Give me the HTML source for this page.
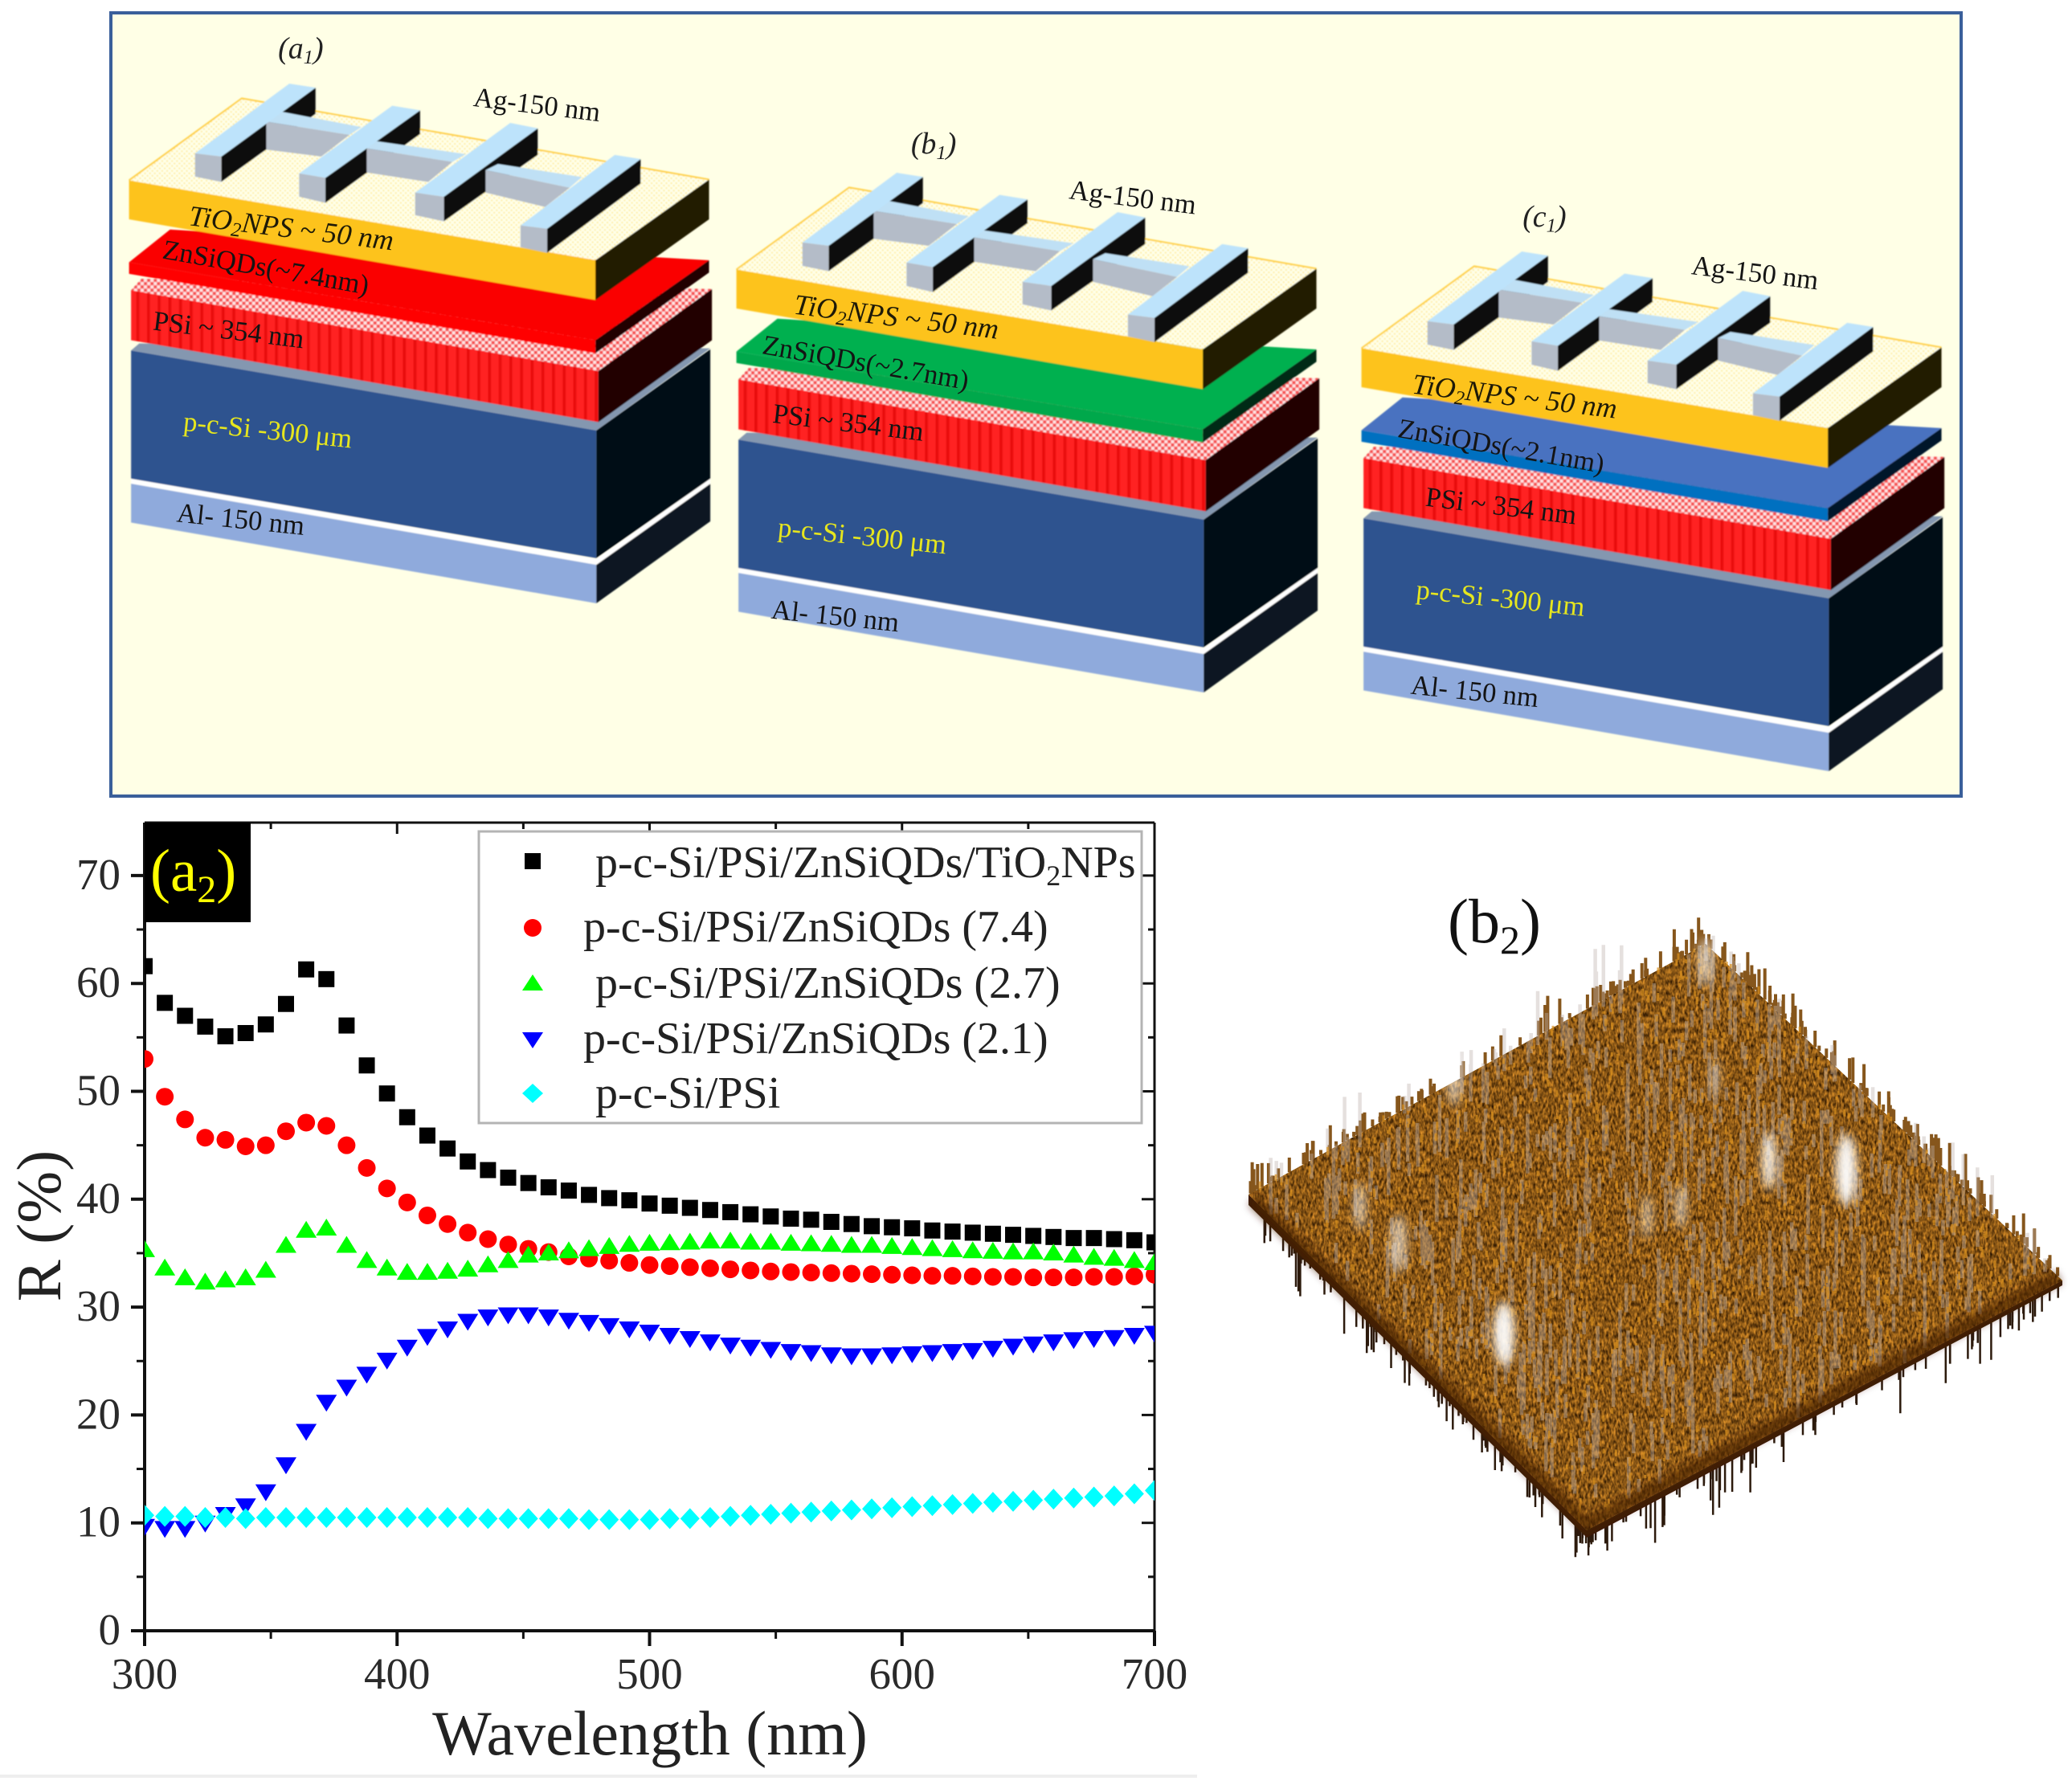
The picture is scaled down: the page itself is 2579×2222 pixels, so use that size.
<!DOCTYPE html>
<html lang="en">
<head>
<meta charset="utf-8">
<title>Solar cell structures, reflectance spectra and AFM surface</title>
<style>
html,body{margin:0;padding:0;background:#fff;width:2579px;height:2222px;overflow:hidden}
svg{display:block}
text{font-family:"Liberation Serif",serif}
.lab{font-size:21px;fill:#141414}
.tio{font-size:21.8px;fill:#1e1a08;font-style:italic}
.si{font-size:21px;fill:#e6e61e}
.ital{font-style:italic}
.tag{font-size:23px;fill:#222;font-style:italic}
.tick{font-size:55px;fill:#2a2a2a}
.leg{font-size:56px;fill:#222}
</style>
</head>
<body>
<svg id="figure" width="2579" height="2222" viewBox="0 0 2579 2222" xmlns="http://www.w3.org/2000/svg">
<defs>
  <pattern id="dots" width="12" height="12" patternUnits="userSpaceOnUse">
    <rect width="12" height="12" fill="#ffffe8"/>
    <circle cx="3" cy="3" r="2" fill="#ffe88c"/>
    <circle cx="9" cy="9" r="2" fill="#ffe88c"/>
  </pattern>
  <pattern id="pink" width="16" height="16" patternUnits="userSpaceOnUse">
    <rect width="16" height="16" fill="#ffe4e4"/>
    <rect width="8" height="8" fill="#f65050"/>
    <rect x="8" y="8" width="8" height="8" fill="#f65050"/>
  </pattern>
  <pattern id="stripes" width="26" height="26" patternUnits="userSpaceOnUse">
    <rect width="26" height="26" fill="#ff2020"/>
    <rect width="7" height="26" fill="#e80a0a"/>
  </pattern>
  <filter id="soft" x="-2%" y="-2%" width="104%" height="104%"><feGaussianBlur stdDeviation="0.9"/></filter>
  <filter id="blob" x="-60%" y="-30%" width="220%" height="160%"><feGaussianBlur stdDeviation="6"/></filter>
  <filter id="edge-blur" x="-5%" y="-5%" width="110%" height="110%"><feGaussianBlur stdDeviation="5"/></filter>
  <filter id="grain" x="0" y="0" width="100%" height="100%" color-interpolation-filters="sRGB">
    <feTurbulence type="fractalNoise" baseFrequency="0.35 0.15" numOctaves="2" seed="7" result="n"/>
    <feColorMatrix in="n" type="matrix" values="1.3 0 0 0 -0.1  0.9 0 0 0 -0.1  0.3 0 0 0 -0.06  0 0 0 0 1" result="c"/>
    <feComposite in="c" in2="SourceAlpha" operator="in"/>
  </filter>

  <g id="stack-geom" transform="translate(130,0) scale(0.5102)">
    <polygon points="65,1180 1200,1378 1200,1472 65,1275" fill="#8faadc"/>
    <polygon points="1200,1378 1478,1180 1478,1272 1200,1472" fill="#0f1520"/>
    <polygon points="65,1168 1200,1364 1478,1168 1478,1180 1200,1378 65,1180" fill="#fff"/>
    <polygon points="65,855 1200,1050 1200,1362 65,1168" fill="#2f528f"/>
    <polygon points="1200,1050 1478,852 1478,1168 1200,1362" fill="#040a14"/>
    <polygon points="65,855 85,838 1478,850 1200,1050" fill="#8497b0"/>
    <polygon points="65,708 1205,905 1205,1030 65,830" fill="url(#stripes)"/>
    <polygon points="1205,905 1482,705 1482,830 1205,1030" fill="#200000"/>
    <polygon points="65,708 90,680 1482,705 1205,905" fill="url(#pink)"/>
    <polygon points="60,640 160,560 1475,635 1198,830" style="fill:var(--zn-top)"/>
    <polygon points="60,640 1198,830 1198,862 60,668" style="fill:var(--zn-front)"/>
    <polygon points="1198,830 1475,635 1475,665 1198,862" style="fill:var(--zn-side)"/>
    <polygon points="60,440 1198,635 1475,438 335,240" fill="url(#dots)"/>
    <polyline points="60,440 335,240 1475,438" fill="none" stroke="#ffcf40" stroke-width="4"/>
    <polygon points="60,440 1198,635 1198,732 60,535" fill="#fdc31d"/>
    <polygon points="1198,635 1475,438 1475,535 1198,732" fill="#221a02"/>
    <!-- finger sides -->
    <polygon points="285,382 515,214 515,278 285,444" fill="#111"/>
    <polygon points="539,434 770,269 770,327 539,495" fill="#111"/>
    <polygon points="828,480 1057,313 1057,378 828,540" fill="#111"/>
    <polygon points="1080,558 1308,388 1308,448 1080,617" fill="#111"/>
    <!-- bus bar segments -->
    <polygon points="395,297 598,329 529,382 395,365" fill="#b4bcc8"/>
    <polygon points="434,273 627,310 598,329 395,297" fill="#bfe0f5"/>
    <polygon points="640,362 849,395 790,444 640,421" fill="#b4bcc8"/>
    <polygon points="653,343 882,376 849,395 640,362" fill="#bfe0f5"/>
    <polygon points="930,415 1135,458 1075,505 930,470" fill="#b4bcc8"/>
    <polygon points="960,400 1165,432 1135,458 930,415" fill="#bfe0f5"/>
    <!-- finger tops and fronts -->
    <polygon points="221,374 285,382 515,214 451,204" fill="#bde3fb"/>
    <polygon points="221,374 285,382 285,444 221,431" fill="#b4bcc8"/>
    <polygon points="475,423 539,434 770,269 702,258" fill="#bde3fb"/>
    <polygon points="475,423 539,434 539,495 475,480" fill="#b4bcc8"/>
    <polygon points="758,470 828,480 1057,313 990,300" fill="#bde3fb"/>
    <polygon points="758,470 828,480 828,540 758,525" fill="#b4bcc8"/>
    <polygon points="1015,550 1080,558 1308,388 1245,378" fill="#bde3fb"/>
    <polygon points="1015,550 1080,558 1080,617 1015,603" fill="#b4bcc8"/>
  </g>
</defs>

<rect width="2579" height="2222" fill="#fff"/>
<rect id="structures-panel" x="138" y="16" width="2303" height="975" fill="#ffffe6" stroke="#3a5f9a" stroke-width="4"/>

<g filter="url(#soft)">
  <use href="#stack-geom" style="--zn-top:#fa0000;--zn-front:#ff0000;--zn-side:#200000"/>
  <use href="#stack-geom" transform="translate(756,111)" style="--zn-top:#00b050;--zn-front:#00a84c;--zn-side:#002a14"/>
  <use href="#stack-geom" transform="translate(1534,209)" style="--zn-top:#4a72c0;--zn-front:#0070c0;--zn-side:#02182c"/>
</g>

<!-- stack labels, in 0.607-scale coordinates -->
<g id="stack-labels" transform="scale(1.648)">
  <text class="tag" x="210" y="44">(a<tspan font-size="15" dy="4">1</tspan><tspan dy="-4">)</tspan></text>
  <text class="lab" x="357" y="80" transform="rotate(7 357 80)">Ag-150 nm</text>
  <text class="tio" x="142" y="170" transform="rotate(7 142 170)">TiO<tspan font-size="15" dy="4">2</tspan><tspan dy="-4">NPS ~ 50 nm</tspan></text>
  <text class="lab" x="122" y="195" transform="rotate(10 122 195)">ZnSiQDs(~7.4nm)</text>
  <text class="lab" x="115" y="249" transform="rotate(7 115 249)">PSi ~ 354 nm</text>
  <text class="si" x="138" y="325" transform="rotate(6 138 325)">p-c-Si -300 μm</text>
  <text class="lab" x="133" y="394" transform="rotate(6 133 394)">Al- 150 nm</text>

  <text class="tag" x="688" y="116">(b<tspan font-size="15" dy="4">1</tspan><tspan dy="-4">)</tspan></text>
  <text class="lab" x="807" y="150" transform="rotate(7 807 150)">Ag-150 nm</text>
  <text class="tio" x="599" y="237" transform="rotate(7 599 237)">TiO<tspan font-size="15" dy="4">2</tspan><tspan dy="-4">NPS ~ 50 nm</tspan></text>
  <text class="lab" x="575" y="267" transform="rotate(10 575 267)">ZnSiQDs(~2.7nm)</text>
  <text class="lab" x="583" y="319" transform="rotate(7 583 319)">PSi ~ 354 nm</text>
  <text class="si" x="587" y="405" transform="rotate(6 587 405)">p-c-Si -300 μm</text>
  <text class="lab" x="582" y="467" transform="rotate(6 582 467)">Al- 150 nm</text>

  <text class="tag" x="1150" y="171">(c<tspan font-size="15" dy="4">1</tspan><tspan dy="-4">)</tspan></text>
  <text class="lab" x="1277" y="207" transform="rotate(7 1277 207)">Ag-150 nm</text>
  <text class="tio" x="1066" y="297" transform="rotate(7 1066 297)">TiO<tspan font-size="15" dy="4">2</tspan><tspan dy="-4">NPS ~ 50 nm</tspan></text>
  <text class="lab" x="1055" y="330" transform="rotate(10 1055 330)">ZnSiQDs(~2.1nm)</text>
  <text class="lab" x="1076" y="382" transform="rotate(7 1076 382)">PSi ~ 354 nm</text>
  <text class="si" x="1069" y="452" transform="rotate(6 1069 452)">p-c-Si -300 μm</text>
  <text class="lab" x="1065" y="524" transform="rotate(6 1065 524)">Al- 150 nm</text>
</g>

<!-- Reflectance chart -->
<g id="chart">
  <clipPath id="plot-clip"><rect x="180" y="1024" width="1257" height="1006"/></clipPath>
  <g id="axes"></g>
  <g id="marks" clip-path="url(#plot-clip)"></g>
  <g id="panel-tag">
    <rect x="180" y="1024" width="132" height="124" fill="#000"/>
    <text x="187" y="1109" font-size="75" fill="#ffff00">(a<tspan font-size="48" dy="14">2</tspan><tspan dy="-14">)</tspan></text>
  </g>
  <g id="legend">
    <rect x="596" y="1035" width="825" height="363" fill="#fff" stroke="#b4b4b4" stroke-width="3"/>
    <text class="leg" x="741" y="1092">p-c-Si/PSi/ZnSiQDs/TiO<tspan font-size="36" dy="10">2</tspan><tspan dy="-10">NPs</tspan></text>
    <text class="leg" x="726" y="1172">p-c-Si/PSi/ZnSiQDs (7.4)</text>
    <text class="leg" x="741" y="1242">p-c-Si/PSi/ZnSiQDs (2.7)</text>
    <text class="leg" x="726" y="1311">p-c-Si/PSi/ZnSiQDs (2.1)</text>
    <text class="leg" x="741" y="1379">p-c-Si/PSi</text>
    <rect x="653" y="1062" width="20" height="20" fill="#000"/>
    <circle cx="663" cy="1155" r="11" fill="#ff0000"/>
    <polygon points="663,1213 676,1233 650,1233" fill="#00ff00"/>
    <polygon points="650,1285 676,1285 663,1305" fill="#0000ff"/>
    <polygon points="663,1349 676,1361 663,1373 650,1361" fill="#00ffff"/>
  </g>
  <text id="x-title" x="809" y="2184" font-size="78" text-anchor="middle" fill="#222">Wavelength (nm)</text>
  <text id="y-title" transform="translate(75,1526) rotate(-90)" font-size="78" text-anchor="middle" fill="#222">R (%)</text>
</g>
<rect x="0" y="2209" width="1490" height="4" fill="#eeeeee"/>

<!-- AFM surface -->
<g id="afm">
  <text x="1802" y="1173" font-size="78" fill="#111">(b<tspan font-size="50" dy="14">2</tspan><tspan dy="-14">)</tspan></text>
  <path id="afm-drops" fill="none" stroke="#2c1a0c" stroke-width="2.5"/>
  <path id="afm-tops" fill="none" stroke="#86561c" stroke-width="4"/>
  <polygon points="1554,1487 1975,1905 2567,1594 2567,1600 1975,1914 1554,1500" fill="#3c1c06"/>
  <polygon points="1554,1487 2123,1175 2567,1594 1975,1905" fill="#7e4c10"/>
  <polygon points="1554,1487 2123,1175 2567,1594 1975,1905" fill="#000" filter="url(#grain)" opacity="0.8"/>
  <path id="afm-spikes-a" fill="none" stroke="#bdb2ac" stroke-width="4.5" stroke-opacity="0.4"/>
  <path id="afm-spikes-b" fill="none" stroke="#d8901e" stroke-width="3" stroke-opacity="0.7"/>
  <polyline points="1560,1494 1975,1898 2562,1590" fill="none" stroke="#4a2206" stroke-width="16" stroke-opacity="0.75" filter="url(#edge-blur)"/>
  <g filter="url(#blob)" fill="#fff">
    <ellipse cx="2298" cy="1456" rx="13" ry="44" opacity="0.95"/>
    <ellipse cx="2202" cy="1445" rx="9" ry="36" opacity="0.85"/>
    <ellipse cx="1872" cy="1660" rx="13" ry="40" opacity="0.95"/>
    <ellipse cx="1693" cy="1502" rx="6" ry="30" opacity="0.7"/>
    <ellipse cx="1741" cy="1548" rx="10" ry="36" opacity="0.6"/>
    <ellipse cx="1810" cy="1341" rx="9" ry="36" opacity="0.6"/>
    <ellipse cx="2123" cy="1198" rx="8" ry="30" opacity="0.7"/>
    <ellipse cx="2092" cy="1502" rx="6" ry="28" opacity="0.7"/>
    <ellipse cx="2050" cy="1514" rx="6" ry="28" opacity="0.6"/>
    <ellipse cx="2135" cy="1340" rx="4" ry="24" opacity="0.6"/>
  </g>
</g>

<script>
const wavelengthStart = 300;
const wavelengthStep = 8;
const seriesTio2 = [61.6,58.2,57,56,55.1,55.4,56.2,58.1,61.3,60.4,56.1,52.4,49.8,47.6,45.9,44.7,43.5,42.7,42,41.5,41.1,40.8,40.4,40.1,39.9,39.6,39.4,39.2,39,38.8,38.6,38.4,38.2,38.1,37.9,37.7,37.5,37.4,37.3,37.1,37,36.9,36.8,36.7,36.6,36.5,36.4,36.4,36.3,36.2,36];
const seriesQd74 = [53,49.5,47.4,45.7,45.5,44.9,45,46.3,47.1,46.8,45,42.9,41,39.7,38.5,37.7,36.9,36.3,35.8,35.4,35.1,34.7,34.5,34.3,34.1,33.9,33.8,33.7,33.6,33.5,33.4,33.3,33.25,33.2,33.15,33.1,33.05,33,32.95,32.9,32.9,32.85,32.8,32.8,32.75,32.75,32.75,32.8,32.8,32.85,33];
const seriesQd27 = [35.3,33.6,32.7,32.3,32.5,32.7,33.4,35.7,37.1,37.3,35.7,34.3,33.6,33.2,33.2,33.3,33.5,33.9,34.3,34.8,35,35.2,35.4,35.6,35.8,35.9,35.95,36,36.1,36.1,36,36,35.9,35.85,35.8,35.7,35.7,35.6,35.5,35.4,35.3,35.2,35.15,35.1,35.1,35,34.8,34.6,34.5,34.3,34.1];
const seriesQd21 = [9.7,9.5,9.5,10,10.8,11.6,12.9,15.4,18.5,21.2,22.6,23.8,25.1,26.3,27.3,28,28.7,29.1,29.3,29.3,29.1,28.8,28.6,28.3,28,27.7,27.4,27.1,26.8,26.5,26.3,26.1,25.9,25.8,25.6,25.5,25.5,25.6,25.7,25.8,25.9,26,26.2,26.4,26.6,26.8,27,27.1,27.2,27.4,27.6];
const seriesPsi = [10.7,10.6,10.6,10.5,10.5,10.4,10.5,10.5,10.5,10.5,10.5,10.5,10.5,10.5,10.5,10.5,10.5,10.4,10.4,10.4,10.4,10.4,10.3,10.3,10.3,10.3,10.4,10.4,10.5,10.6,10.7,10.8,10.9,11,11.1,11.2,11.3,11.4,11.5,11.6,11.7,11.8,11.9,12,12.1,12.2,12.3,12.4,12.5,12.7,13];
const xTickLabels = [300,400,500,600,700];
const xMinorTicks = [350,450,550,650];
const yTickLabels = [0,10,20,30,40,50,60,70];
const yMinorTicks = [5,15,25,35,45,55,65];

const NS = 'http://www.w3.org/2000/svg';
const plotTop = 1024, plotBottom = 2030, plotLeft = 180, plotRight = 1437;
const xScale = v => plotLeft + (v - 300) * ((plotRight - plotLeft) / 400);
const yScale = v => plotBottom - v * 13.43;
const axesG = document.getElementById('axes');
const marksG = document.getElementById('marks');

function axisLine(x1, y1, x2, y2, w, name) {
  const l = document.createElementNS(NS, 'line');
  l.setAttribute('x1', x1);
  l.setAttribute('y1', y1);
  l.setAttribute('x2', x2);
  l.setAttribute('y2', y2);
  l.setAttribute('stroke', '#111');
  l.setAttribute('stroke-width', w);
  
  
  axesG.appendChild(l);
}
function axisLabel(x, y, str, anchor, name) {
  const t = document.createElementNS(NS, 'text');
  t.setAttribute('x', x);
  t.setAttribute('y', y);
  t.setAttribute('class', 'tick');
  t.setAttribute('text-anchor', anchor);
  t.textContent = str;
  
  
  axesG.appendChild(t);
}
axisLine(plotLeft, plotTop, plotLeft, plotBottom, 4, 'y-axis-line');
axisLine(plotLeft, plotBottom, plotRight, plotBottom, 4, 'x-axis-line');
axisLine(plotLeft, plotTop, plotRight, plotTop, 3, 'top-axis-line');
axisLine(plotRight, plotTop, plotRight, plotBottom, 3, 'right-axis-line');
xTickLabels.forEach(v => {
  axisLine(xScale(v), plotBottom, xScale(v), plotBottom + 19, 4, 'x-tick-major');
  axisLine(xScale(v), plotTop, xScale(v), plotTop + 14, 3, 'top-tick-major');
  axisLabel(xScale(v), 2102, String(v), 'middle', 'x-tick-label');
});
xMinorTicks.forEach(v => {
  axisLine(xScale(v), plotBottom, xScale(v), plotBottom + 10, 3, 'x-tick-minor');
  axisLine(xScale(v), plotTop, xScale(v), plotTop + 8, 3, 'top-tick-minor');
});
yTickLabels.forEach(v => {
  axisLine(plotLeft - 17, yScale(v), plotLeft, yScale(v), 4, 'y-tick-major');
  axisLine(plotRight - 16, yScale(v), plotRight, yScale(v), 3, 'right-tick-major');
  axisLabel(150, yScale(v) + 17, String(v), 'end', 'y-tick-label');
});
yMinorTicks.forEach(v => {
  axisLine(plotLeft - 10, yScale(v), plotLeft, yScale(v), 3, 'y-tick-minor');
  axisLine(plotRight - 8, yScale(v), plotRight, yScale(v), 3, 'right-tick-minor');
});

function drawMarker(kind, cx, cy, color, name) {
  let m;
  if (kind === 'square') {
    m = document.createElementNS(NS, 'rect');
    m.setAttribute('x', cx - 10);
    m.setAttribute('y', cy - 10);
    m.setAttribute('width', 20);
    m.setAttribute('height', 20);
  } else if (kind === 'circle') {
    m = document.createElementNS(NS, 'circle');
    m.setAttribute('cx', cx);
    m.setAttribute('cy', cy);
    m.setAttribute('r', 11);
  } else {
    m = document.createElementNS(NS, 'polygon');
    let pts;
    if (kind === 'up') pts = [[cx, cy - 12], [cx + 13, cy + 9], [cx - 13, cy + 9]];
    else if (kind === 'down') pts = [[cx - 13, cy - 9], [cx + 13, cy - 9], [cx, cy + 12]];
    else pts = [[cx, cy - 13], [cx + 12, cy], [cx, cy + 13], [cx - 12, cy]];
    m.setAttribute('points', pts.map(p => p.join(',')).join(' '));
  }
  m.setAttribute('fill', color);
  
  
  marksG.appendChild(m);
}
function drawSeries(values, kind, color, name) {
  values.forEach((v, i) => {
    drawMarker(kind, xScale(wavelengthStart + i * wavelengthStep), yScale(v), color, name);
  });
}
drawSeries(seriesTio2, 'square', '#000000', 'point-tio2');
drawSeries(seriesQd74, 'circle', '#ff0000', 'point-qd-7-4');
drawSeries(seriesQd27, 'up', '#00ff00', 'point-qd-2-7');
drawSeries(seriesQd21, 'down', '#0000ff', 'point-qd-2-1');
drawSeries(seriesPsi, 'diamond', '#00ffff', 'point-psi');

// AFM surface decoration (image texture, not chart data)
(function () {
  let s = 12345;
  const r = () => { s = (s * 1103515245 + 12345) & 0x7fffffff; return s / 0x7fffffff; };
  const L = [1554, 1487], T = [2123, 1175], R = [2567, 1594], B = [1975, 1905];
  const mix = (a, b, t) => [a[0] + (b[0] - a[0]) * t, a[1] + (b[1] - a[1]) * t];
  let pale = '', gold = '', drops = '', tops = '';
  for (let i = 0; i < 650; i++) {
    const u = r(), v = r();
    const p = mix(mix(L, T, u), mix(B, R, u), v);
    const h = 16 + r() * r() * 75;
    pale += 'M' + p[0].toFixed(1) + ' ' + p[1].toFixed(1) + 'v-' + h.toFixed(1);
  }
  for (let i = 0; i < 900; i++) {
    const u = r(), v = r();
    const p = mix(mix(L, T, u), mix(B, R, u), v);
    gold += 'M' + p[0].toFixed(1) + ' ' + p[1].toFixed(1) + 'v-' + (3 + r() * 8).toFixed(1);
  }
  for (let i = 0; i < 160; i++) {
    const t = r();
    const p = i % 2 ? mix(L, B, t) : mix(B, R, t);
    drops += 'M' + p[0].toFixed(1) + ' ' + p[1].toFixed(1) + 'v' + (14 + r() * r() * 60).toFixed(1);
  }
  for (let i = 0; i < 220; i++) {
    const t = r();
    const p = i % 2 ? mix(L, T, t) : mix(T, R, t);
    tops += 'M' + p[0].toFixed(1) + ' ' + p[1].toFixed(1) + 'v-' + (6 + r() * r() * 42).toFixed(1);
  }
  document.getElementById('afm-spikes-a').setAttribute('d', pale);
  document.getElementById('afm-spikes-b').setAttribute('d', gold);
  document.getElementById('afm-drops').setAttribute('d', drops);
  document.getElementById('afm-tops').setAttribute('d', tops);
})();
</script>
</svg>
</body>
</html>
